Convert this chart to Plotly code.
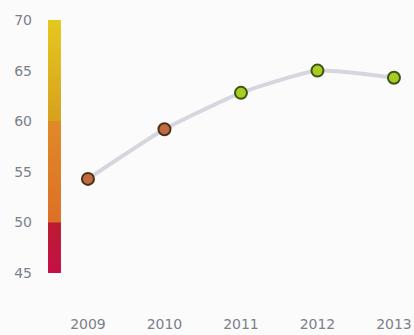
import plotly.graph_objects as go

years = [2009, 2010, 2011, 2012, 2013]
values = [54.3, 59.2, 62.8, 65.0, 64.3]
y_ticks = [45, 50, 55, 60, 65, 70]

# colour bands for the scale strip: (low, high, colour at low, colour at high)
bands = [
    (45, 50, "#c41048", "#bc1c30"),
    (50, 60, "#dc7026", "#e08a28"),
    (60, 70, "#d8a01e", "#e4c81e"),
]


def marker_colour(v):
    return "#c06a40" if v < 60 else "#a8cc22"


def marker_line(v):
    return "#4e3018" if v < 60 else "#3c5414"


def hex_mix(c1, c2, t):
    a = [int(c1[i:i + 2], 16) for i in (1, 3, 5)]
    b = [int(c2[i:i + 2], 16) for i in (1, 3, 5)]
    return "#" + "".join(f"{round(a[k] + (b[k] - a[k]) * t):02x}" for k in range(3))


fig = go.Figure()

# connecting line
fig.add_trace(go.Scatter(
    x=years, y=values, mode="lines",
    line=dict(color="#d6d6de", width=4, shape="spline", smoothing=0.5),
    hoverinfo="skip", showlegend=False,
))

# year markers
fig.add_trace(go.Scatter(
    x=years, y=values, mode="markers",
    marker=dict(size=12,
                color=[marker_colour(v) for v in values],
                line=dict(color=[marker_line(v) for v in values], width=2)),
    showlegend=False,
))

# vertical colour scale strip, built from thin overlapping slices
shapes = []
steps = 20
for lo, hi, c_lo, c_hi in bands:
    for i in range(steps):
        y0 = lo + (hi - lo) * i / steps
        y1 = lo + (hi - lo) * (i + 1) / steps
        if not (hi == 70 and i == steps - 1):
            y1 += 0.15
        shapes.append(dict(
            type="rect", xref="paper", yref="y",
            x0=0.0214, x1=0.056, y0=y0, y1=y1,
            fillcolor=hex_mix(c_lo, c_hi, (i + 0.5) / steps),
            line=dict(width=0), layer="below",
        ))

fig.update_layout(
    width=414, height=335,
    margin=dict(l=40, r=0, t=0, b=30),
    paper_bgcolor="#fbfbfc", plot_bgcolor="#fbfbfc",
    shapes=shapes,
    font=dict(family="DejaVu Sans", color="#7c8089", size=14),
    xaxis=dict(
        range=[2008.373, 2013.262],
        tickmode="array", tickvals=years, ticktext=[str(y) for y in years],
        showgrid=False, zeroline=False, showline=False, ticks="",
        ticklabelstandoff=9,
    ),
    yaxis=dict(
        range=[41.84, 71.976],
        tickmode="array", tickvals=y_ticks,
        showgrid=False, zeroline=False, showline=False, ticks="",
        ticklabelstandoff=7,
    ),
)

fig.write_html("out.html")
